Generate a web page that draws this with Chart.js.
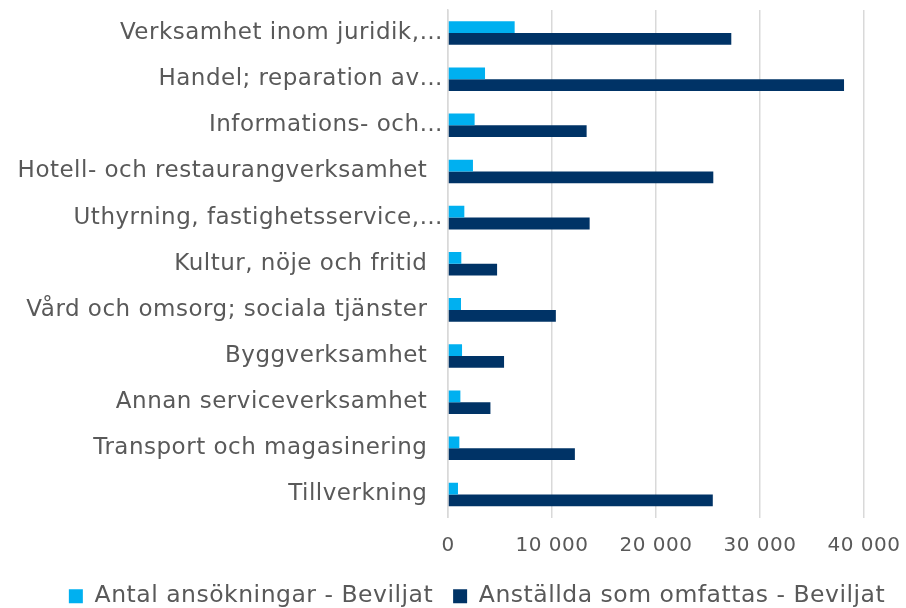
<!DOCTYPE html>
<html lang="sv">
<head>
    <meta charset="UTF-8">
    <title>Beviljade ansökningar per bransch</title>
    <script src="https://cdn.jsdelivr.net/npm/chart.js"></script>
    <style>
        html, body { margin: 0; padding: 0; background: #fff; }
        #wrap { width: 906px; height: 608px; }
    </style>
</head>
<body>
    <div id="wrap"><canvas id="chart"></canvas></div>

    <script>
        // Branscher, uppifrån och ned
        const branscher = [
            'Verksamhet inom juridik,…',
            'Handel; reparation av…',
            'Informations- och…',
            'Hotell- och restaurangverksamhet',
            'Uthyrning, fastighetsservice,…',
            'Kultur, nöje och fritid',
            'Vård och omsorg; sociala tjänster',
            'Byggverksamhet',
            'Annan serviceverksamhet',
            'Transport och magasinering',
            'Tillverkning'
        ];

        const antalAnsokningar = [6410, 3560, 2560, 2400, 1570, 1280, 1250, 1350, 1190, 1090, 960];
        const anstallda = [27240, 38080, 13330, 25510, 13620, 4720, 10370, 5390, 4080, 12200, 25460];

        const xTicks = [0, 10000, 20000, 30000, 40000];

        const textColor = '#595959';
        const gridColor = '#d9d9d9';
        const fontFamily = '"DejaVu Sans", Verdana, sans-serif';

        // 10000 -> "10 000"
        function formatNumber(v) {
            return String(v).replace(/\B(?=(\d{3})+(?!\d))/g, ' ');
        }

        // Verdana is a bit wider than DejaVu Sans, so space the letters out a little
        const spacing = {
            id: 'spacing',
            beforeUpdate: chart => { chart.ctx.letterSpacing = '0.5px'; },
            beforeLayout: chart => { chart.ctx.letterSpacing = '0.5px'; },
            beforeDraw: chart => { chart.ctx.letterSpacing = '0.5px'; }
        };

        // legend sits a bit right of centre, like the original
        const shiftLegend = {
            id: 'shiftLegend',
            afterLayout: chart => {
                chart.legend.left += 24;
                chart.legend.right += 24;
            }
        };

        const ctx = document.getElementById('chart').getContext('2d');
        new Chart(ctx, {
            type: 'bar',
            data: {
                labels: branscher,
                datasets: [
                    {
                        label: 'Antal ansökningar - Beviljat',
                        data: antalAnsokningar,
                        backgroundColor: '#00b0f0'
                    },
                    {
                        label: 'Anställda som omfattas - Beviljat',
                        data: anstallda,
                        backgroundColor: '#003366'
                    }
                ]
            },
            options: {
                indexAxis: 'y',
                responsive: true,
                maintainAspectRatio: false,
                animation: false,
                layout: {
                    padding: { left: 0, right: 0, top: 10, bottom: -10 }
                },
                datasets: {
                    bar: {
                        categoryPercentage: 0.51,
                        barPercentage: 1.0
                    }
                },
                scales: {
                    x: {
                        min: 0,
                        max: 40000,
                        afterBuildTicks: axis => {
                            axis.ticks = xTicks.map(v => ({ value: v }));
                        },
                        afterFit: axis => {
                            axis.height = 47;
                            axis.paddingLeft = 0;
                            axis.paddingRight = 42;
                        },
                        grid: {
                            color: gridColor,
                            lineWidth: 1.5,
                            drawTicks: false
                        },
                        border: { display: false },
                        ticks: {
                            color: textColor,
                            padding: 16,
                            font: { family: fontFamily, size: 20 },
                            callback: v => formatNumber(v)
                        }
                    },
                    y: {
                        afterFit: axis => {
                            axis.width = 448;
                            axis.paddingTop = 0;
                            axis.paddingBottom = 0;
                        },
                        grid: { display: false, drawTicks: false },
                        border: { display: true, color: gridColor, width: 1.5 },
                        ticks: {
                            color: textColor,
                            padding: 5,
                            autoSkip: false,
                            font: { family: fontFamily, size: 23 },
                            // full labels stop a little short of the axis, cut ones run up to it
                            callback: function (v) {
                                const label = this.getLabelForValue(v);
                                return label.endsWith('…') ? label : label + '  ';
                            }
                        }
                    }
                },
                plugins: {
                    legend: {
                        position: 'bottom',
                        labels: {
                            color: textColor,
                            boxWidth: 14,
                            boxHeight: 14,
                            padding: 20,
                            font: { family: fontFamily, size: 23.5 }
                        }
                    },
                    tooltip: { enabled: false }
                }
            },
            plugins: [spacing, shiftLegend]
        });
    </script>
</body>
</html>
